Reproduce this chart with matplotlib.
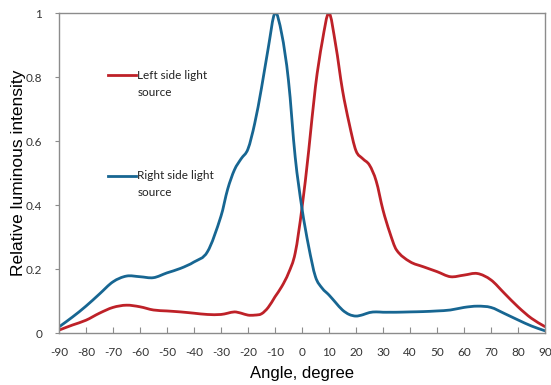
import matplotlib
matplotlib.use('Agg')
import matplotlib.pyplot as plt
from matplotlib.path import Path
from matplotlib.patches import PathPatch

plt.rcParams['axes.unicode_minus'] = False

# angular profiles of the two light sources
angles = [-90, -85, -80, -75, -70, -65, -60, -55, -50, -45, -40, -35, -30,
          -27.5, -25, -22.5, -20, -17.5, -15, -12.5, -10, -7.5, -5, -2.5, 0,
          2.5, 5, 7.5, 10, 12.5, 15, 17.5, 20, 22.5, 25, 27.5, 30, 32.5, 35,
          40, 45, 50, 55, 60, 65, 70, 75, 80, 85, 90]
left_src = [0.009, 0.025, 0.040, 0.062, 0.080, 0.087, 0.082, 0.072, 0.069, 0.066,
            0.062, 0.058, 0.058, 0.062, 0.066, 0.062, 0.056, 0.056, 0.060, 0.080,
            0.113, 0.145, 0.187, 0.250, 0.390, 0.570, 0.770, 0.910, 1.000, 0.900,
            0.760, 0.655, 0.570, 0.545, 0.525, 0.475, 0.385, 0.315, 0.260, 0.223,
            0.207, 0.192, 0.176, 0.181, 0.186, 0.166, 0.124, 0.082, 0.046, 0.020]
right_src = [0.019, 0.050, 0.084, 0.122, 0.160, 0.178, 0.176, 0.173, 0.188, 0.202,
             0.222, 0.254, 0.365, 0.450, 0.510, 0.545, 0.575, 0.655, 0.765, 0.890,
             1.000, 0.935, 0.790, 0.550, 0.390, 0.270, 0.176, 0.140, 0.119, 0.095,
             0.072, 0.058, 0.053, 0.057, 0.064, 0.066, 0.065, 0.065, 0.065, 0.066,
             0.067, 0.069, 0.072, 0.080, 0.084, 0.080, 0.061, 0.041, 0.022, 0.007]

series_names = [['Left side light', 'source'], ['Right side light', 'source']]

xticks = list(range(-90, 91, 10))
yticks = [0, 0.2, 0.4, 0.6, 0.8, 1]
ylabels = ['0', '0.2', '0.4', '0.6', '0.8', '1']

red = '#BE2128'
blue = '#176692'


def smooth_path(xs, ys):
    # cubic Hermite segments through every point (smoothed-line style)
    n = len(xs)
    slopes = []
    for i in range(n):
        a = max(i - 1, 0)
        b = min(i + 1, n - 1)
        slopes.append((ys[b] - ys[a]) / (xs[b] - xs[a]))
    verts = [(xs[0], ys[0])]
    codes = [Path.MOVETO]
    for i in range(n - 1):
        h = xs[i + 1] - xs[i]
        verts += [(xs[i] + h / 3, ys[i] + slopes[i] * h / 3),
                  (xs[i + 1] - h / 3, ys[i + 1] - slopes[i + 1] * h / 3),
                  (xs[i + 1], ys[i + 1])]
        codes += [Path.CURVE4] * 3
    return Path(verts, codes)


fig = plt.figure(figsize=(5.51, 3.85), dpi=100)
ax = fig.add_axes([0.107, 0.135, 0.882, 0.831])

for ys, c in [(left_src, red), (right_src, blue)]:
    ax.add_patch(PathPatch(smooth_path(angles, ys), facecolor='none',
                           edgecolor=c, lw=2.0, capstyle='round'))

ax.set_xlim(-90, 90)
ax.set_ylim(0, 1)
ax.set_xticks(xticks)
ax.set_yticks(yticks)
ax.set_yticklabels(ylabels)

for s in ax.spines.values():
    s.set_color('#8c8c8c')
    s.set_linewidth(1.0)

ax.tick_params(axis='x', direction='in', length=4, color='#8c8c8c',
               labelsize=8.5, labelcolor='#333333', pad=10)
ax.tick_params(axis='y', direction='out', length=3, color='#8c8c8c',
               labelsize=8.5, labelcolor='#333333', pad=9)
for t in ax.get_xticklabels() + ax.get_yticklabels():
    t.set_family('Lato')

ax.set_xlabel('Angle, degree', fontsize=12, family='Liberation Sans', labelpad=6)
ax.set_ylabel('Relative luminous intensity', fontsize=12.5,
              family='Liberation Sans', labelpad=0)

# hand-placed legend keys, handle level with the first text line
key_y = [0.806, 0.491]
for (first, second), c, y in zip(series_names, [red, blue], key_y):
    ax.plot([0.101, 0.158], [y, y], color=c, lw=2.0, transform=ax.transAxes)
    ax.text(0.161, y, first, transform=ax.transAxes, va='center', ha='left',
            family='Lato', fontsize=8.5, color='#222222')
    ax.text(0.161, y - 0.053, second, transform=ax.transAxes, va='center',
            ha='left', family='Lato', fontsize=8.5, color='#222222')

plt.savefig('out.png', dpi=100)
